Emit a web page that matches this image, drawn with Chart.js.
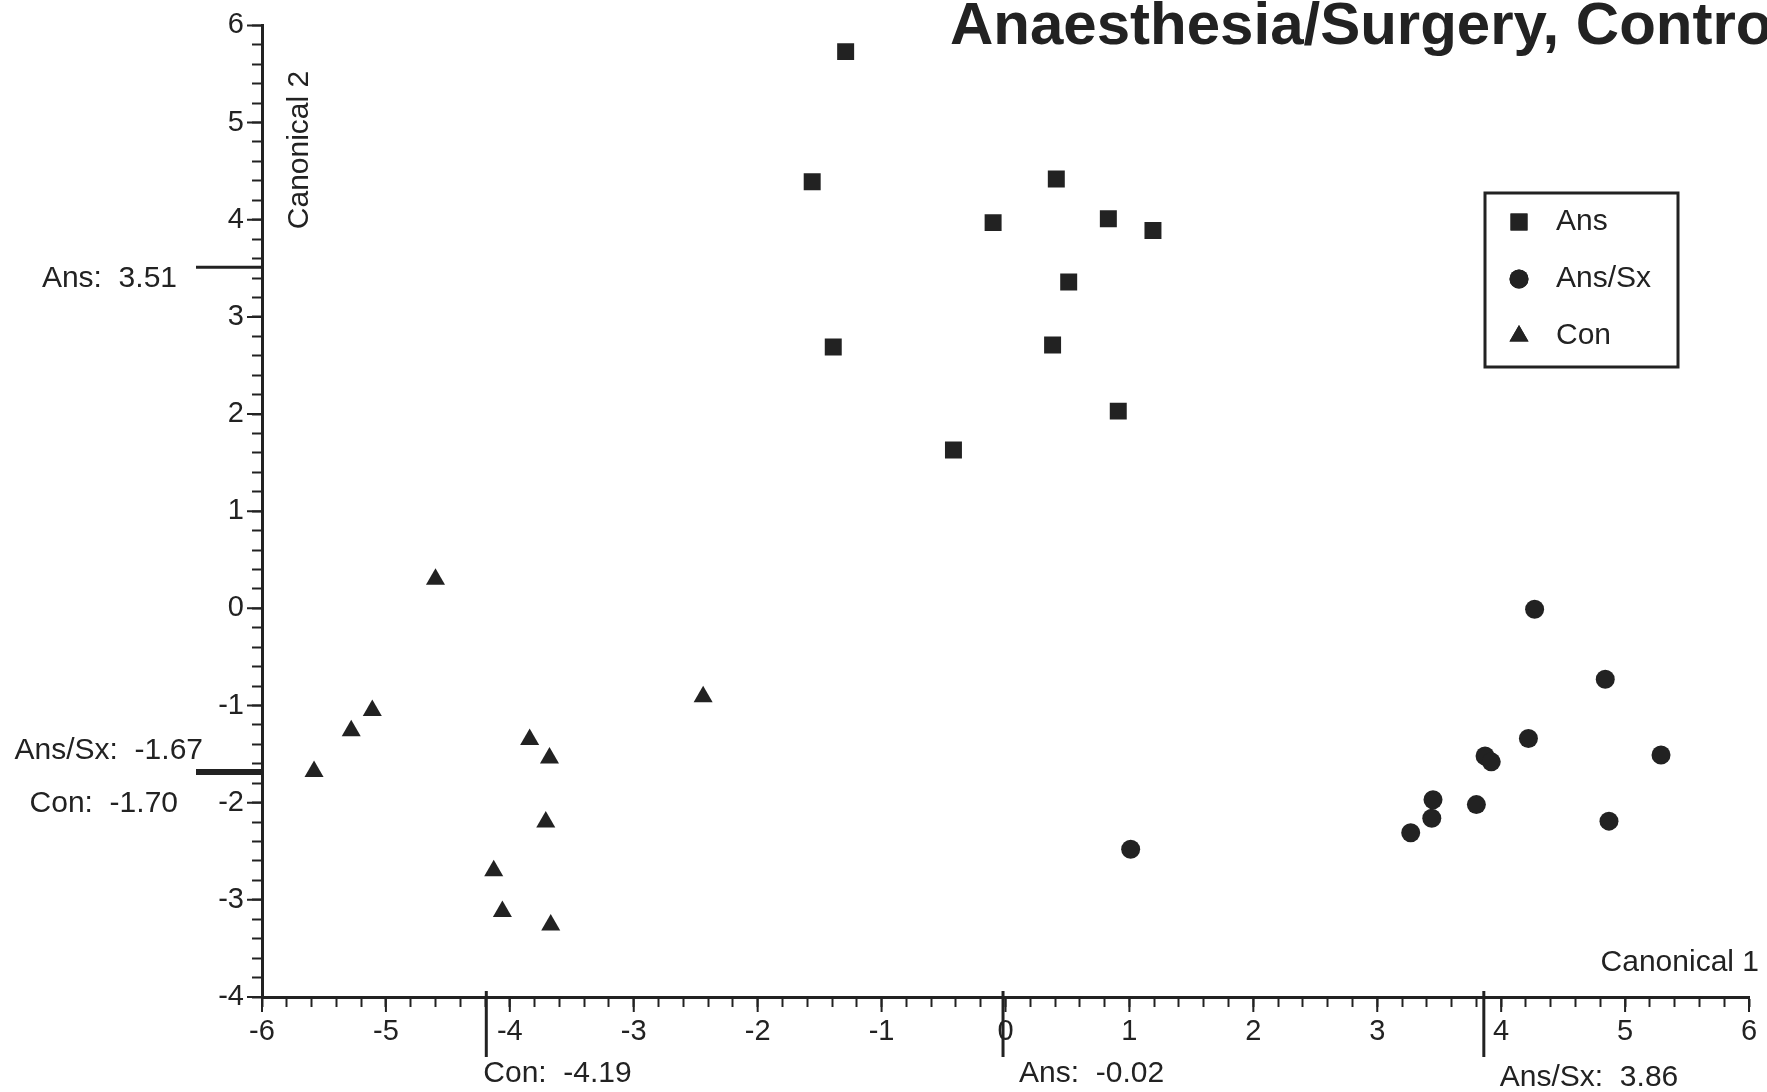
<!DOCTYPE html>
<html>
<head>
    <title>Canonical Plot</title>
    <script src="https://cdn.jsdelivr.net/npm/chart.js"></script>
    <style>
        html, body { margin: 0; padding: 0; background: #fff; }
    </style>
</head>
<body>
    <canvas id="canonChart" width="1767" height="1092"></canvas>
    <script>
        // Canonical scores per group
        const ansX = [-1.29, -1.56, 0.41, -0.10, 0.83, 1.19, 0.51, -1.39, 0.38, 0.91, -0.42];
        const ansY = [5.73, 4.39, 4.42, 3.97, 4.01, 3.89, 3.36, 2.69, 2.71, 2.03, 1.63];
        const ansSxX = [4.27, 4.84, 4.22, 5.29, 3.87, 3.92, 3.45, 3.80, 3.44, 3.27, 4.87, 1.01];
        const ansSxY = [-0.01, -0.73, -1.34, -1.51, -1.52, -1.58, -1.97, -2.02, -2.16, -2.31, -2.19, -2.48];
        const conX = [-4.60, -2.44, -5.11, -5.28, -3.84, -3.68, -5.58, -3.71, -4.13, -4.06, -3.67];
        const conY = [0.30, -0.91, -1.05, -1.26, -1.35, -1.54, -1.68, -2.20, -2.70, -3.12, -3.26];

        // Group means marked on each axis
        const groupNames = ['Ans', 'Ans/Sx', 'Con'];
        const meanX = [-0.02, 3.86, -4.19];
        const meanY = [3.51, -1.67, -1.70];

        const ink = '#222';
        const font = "'Liberation Sans', Arial, Helvetica, sans-serif";

        const toPoints = (xs, ys) => xs.map((x, i) => ({ x: x, y: ys[i] }));
        const isWhole = v => Math.abs(v - Math.round(v)) < 1e-6;

        const overlay = {
            id: 'overlay',
            afterDraw(chart) {
                const ctx = chart.ctx;
                const xs = chart.scales.x, ys = chart.scales.y;
                const area = chart.chartArea;
                ctx.save();
                ctx.fillStyle = ink;
                ctx.strokeStyle = ink;

                // longer marks on the whole-number ticks
                ctx.lineWidth = 2;
                ctx.beginPath();
                for (let v = -6; v <= 6; v++) {
                    const px = xs.getPixelForValue(v);
                    ctx.moveTo(px, area.bottom);
                    ctx.lineTo(px, area.bottom + 15);
                }
                for (let v = -4; v <= 6; v++) {
                    const py = ys.getPixelForValue(v);
                    ctx.moveTo(area.left, py);
                    ctx.lineTo(area.left - 15, py);
                }
                ctx.stroke();

                // title
                ctx.font = 'bold 60px ' + font;
                ctx.textAlign = 'left';
                ctx.textBaseline = 'alphabetic';
                ctx.fillText('Anaesthesia/Surgery, Contro', 950, 44);

                // axis names
                ctx.font = '30px ' + font;
                ctx.textAlign = 'right';
                ctx.textBaseline = 'middle';
                ctx.fillText('Canonical 1', 1759, 963);
                ctx.save();
                ctx.translate(300, 150);
                ctx.rotate(-Math.PI / 2);
                ctx.textAlign = 'center';
                ctx.fillText('Canonical 2', 0, 0);
                ctx.restore();

                // group means on the vertical axis
                ctx.lineWidth = 3;
                const yOffsets = [11, -20, 30];
                const yRight = [177, 203, 178];
                meanY.forEach((m, i) => {
                    const py = ys.getPixelForValue(m);
                    ctx.beginPath();
                    ctx.moveTo(area.left - 66, py);
                    ctx.lineTo(area.left, py);
                    ctx.stroke();
                    ctx.textAlign = 'right';
                    ctx.fillText(groupNames[i] + ':  ' + m.toFixed(2), yRight[i], py + yOffsets[i]);
                });

                // group means on the horizontal axis
                const xShift = [16, 16, -3];
                meanX.forEach((m, i) => {
                    const px = xs.getPixelForValue(m);
                    ctx.beginPath();
                    ctx.moveTo(px, area.bottom - 6);
                    ctx.lineTo(px, area.bottom + 60);
                    ctx.stroke();
                    ctx.textAlign = 'left';
                    ctx.fillText(groupNames[i] + ':  ' + m.toFixed(2), px + xShift[i], i === 1 ? 1078 : 1074);
                });

                // legend
                ctx.lineWidth = 3;
                ctx.strokeRect(1485, 193, 193, 174);
                chart.data.datasets.forEach((ds, i) => {
                    const rowY = 222 + i * 57;
                    Chart.helpers.drawPoint(ctx, {
                        pointStyle: ds.pointStyle,
                        radius: ds.pointRadius,
                        rotation: 0,
                        borderWidth: 0
                    }, 1519, rowY);
                    ctx.fillStyle = ink;
                    ctx.fill();
                    ctx.textAlign = 'left';
                    ctx.fillText(ds.label, 1556, rowY);
                });
                ctx.restore();
            }
        };

        const axisCommon = {
            type: 'linear',
            grid: {
                drawOnChartArea: false,
                drawTicks: true,
                tickLength: 10,
                tickWidth: 2,
                tickColor: ink
            },
            border: { display: true, color: ink, width: 3 }
        };

        new Chart(document.getElementById('canonChart').getContext('2d'), {
            type: 'scatter',
            data: {
                datasets: [
                    {
                        label: 'Ans',
                        data: toPoints(ansX, ansY),
                        pointStyle: 'rect',
                        pointRadius: 12,
                        backgroundColor: ink,
                        borderWidth: 0
                    },
                    {
                        label: 'Ans/Sx',
                        data: toPoints(ansSxX, ansSxY),
                        pointStyle: 'circle',
                        pointRadius: 9.5,
                        backgroundColor: ink,
                        borderWidth: 0
                    },
                    {
                        label: 'Con',
                        data: toPoints(conX, conY),
                        pointStyle: 'triangle',
                        pointRadius: 11,
                        backgroundColor: ink,
                        borderWidth: 0
                    }
                ]
            },
            options: {
                responsive: false,
                animation: false,
                layout: { padding: { left: 200, right: 18, top: 20, bottom: 50 } },
                scales: {
                    x: Object.assign({}, axisCommon, {
                        position: 'bottom',
                        min: -6,
                        max: 6,
                        afterFit(scale) { scale.height = 45; },
                        ticks: {
                            stepSize: 0.2,
                            autoSkip: false,
                            maxRotation: 0,
                            padding: 8,
                            color: ink,
                            font: { family: font, size: 29 },
                            callback: v => isWhole(v) ? String(Math.round(v)) : ''
                        }
                    }),
                    y: Object.assign({}, axisCommon, {
                        position: 'left',
                        min: -4,
                        max: 6,
                        afterFit(scale) { scale.width = 62; },
                        ticks: {
                            stepSize: 0.2,
                            autoSkip: false,
                            padding: 8,
                            color: ink,
                            font: { family: font, size: 29 },
                            callback: v => isWhole(v) ? String(Math.round(v)) : ''
                        }
                    })
                },
                plugins: {
                    legend: { display: false },
                    tooltip: { enabled: false }
                }
            },
            plugins: [overlay]
        });
    </script>
</body>
</html>
